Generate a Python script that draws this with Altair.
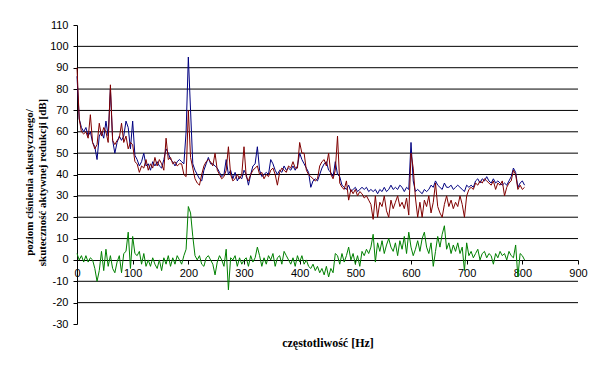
import altair as alt
import pandas as pd

# frequency bins [Hz]
freq = list(range(0, 805, 4))

blue = [
    86, 66, 62, 60, 62, 58, 60, 55, 53, 47,
    58, 60, 57, 65, 58, 80, 56, 50, 55, 58,
    56, 58, 65, 62, 52, 65, 49, 47, 44, 46,
    50, 44, 45, 42, 46, 44, 46, 44, 43, 47,
    52, 50, 47, 46, 44, 46, 47, 46, 45, 60,
    95, 70, 45, 42, 40, 38, 37, 42, 45, 48,
    45, 45, 44, 43, 41, 39, 40, 47, 40, 42,
    38, 41, 37, 39, 38, 42, 40, 35, 40, 44,
    45, 53, 42, 39, 40, 41, 40, 47, 45, 42,
    40, 42, 41, 44, 42, 43, 42, 44, 42, 44,
    50, 47, 45, 43, 41, 34, 37, 38, 37, 40,
    43, 45, 46, 42, 41, 39, 46, 40, 39, 35,
    34, 33, 35, 32, 33, 34, 32, 33, 34, 33,
    34, 32, 33, 32, 33, 31, 33, 32, 34, 32,
    33, 35, 33, 34, 33, 35, 34, 32, 34, 33,
    55, 37, 32, 33, 32, 31, 33, 32, 33, 35,
    34, 37, 35, 34, 33, 36, 34, 34, 35, 33,
    34, 35, 34, 33, 32, 35, 34, 35, 34, 37,
    38, 36, 38, 37, 39, 37, 36, 38, 36, 37,
    36, 35, 36, 35, 37, 39, 43, 41, 34, 36,
    37, 35,
]

red = [
    90, 66, 60, 59, 60, 57, 68, 55, 52, 54,
    64, 58, 62, 60, 55, 82, 56, 54, 56, 57,
    64, 55, 58, 52, 55, 54, 46, 45, 41, 44,
    43, 47, 42, 45, 43, 48, 44, 47, 45, 42,
    57, 47, 48, 45, 46, 44, 45, 45, 40, 39,
    70, 48, 43, 38, 36, 35, 40, 44, 46, 47,
    46, 44, 50, 42, 40, 38, 39, 42, 53, 40,
    37, 38, 40, 38, 40, 53, 39, 37, 40, 42,
    43, 44, 40, 41, 38, 40, 39, 42, 43, 40,
    35, 41, 43, 42, 41, 44, 43, 46, 43, 43,
    55, 50, 50, 42, 40, 39, 38, 37, 38, 44,
    46, 47, 44, 50, 40, 38, 42, 58, 36, 34,
    33, 37, 28, 33, 31, 33, 30, 32, 31, 29,
    30, 28, 26, 19, 30, 20, 27, 25, 30, 23,
    20, 28, 24, 27, 30, 25, 27, 24, 29, 21,
    50, 43, 29, 20, 27, 20, 28, 25, 30, 22,
    27, 36, 25, 22, 20, 26, 30, 25, 28, 24,
    27, 25, 30, 26, 20, 30, 33, 34, 33, 36,
    35, 37, 36, 38, 37, 36, 35, 37, 33, 36,
    35, 37, 30, 34, 36, 37, 42, 40, 33, 35,
    33, 34,
]

green = [
    3, 0, 2, -1, 2, -1, 1, 0, -4, -10,
    -5, 4, -5, 5, -3, 2, -4, -6, -1, 2,
    -6, 3, 4, 13, -4, 11, 3, 2, 4, -2,
    3, -3, 0, -3, 1, -2, -4, 0, -5, 1,
    -2, 2, -3, 1, -2, 2, 0, -2, 2, 5,
    25, 22, 11, 2, 0, 2, -2, -3, 1, 2,
    0, -2, -7, -1, 2, 0, -3, 5, -14, 1,
    0, 2, -3, 1, -2, 0, 1, -3, 2, -1,
    1, 6, 2, -3, 1, -2, 2, 0, 3, -3,
    1, 2, -2, 4, 2, 0, -2, 1, -3, 2,
    -1, 2, -2, 0, -3, -4, -2, -5, -3, -6,
    -4, -7, -3, -8, -4, -6, 3, 2, -2, 3,
    -1, 2, 6, 0, 3, -2, 2, -3, 4, 2,
    5, 3, 6, 12, -1, 8, 4, 9, 3, 7,
    10, 6, 4, 8, 2, 9, 5, 11, 3, 13,
    6, 2, 5, 9, 4, 10, 13, 6, 3, 8,
    -3, 4, 11, 6, 12, 16, 5, 8, 3, 7,
    4, 8, 3, 6, -5, 8, 2, 4, 1, 3,
    5, 0, 3, 4, 1, 3, 2, -2, 3, 1,
    4, 2, 3, 0, 4, 2, 1, 7, -8, 3,
    2, 0,
]

grid_levels = [-20, -10, 10, 20, 30, 40, 50, 60, 70, 80, 90, 100]
x_ticks = [0, 100, 200, 300, 400, 500, 600, 700, 800, 900]
y_ticks = [-30, -20, -10, 0, 10, 20, 30, 40, 50, 60, 70, 80, 90, 100, 110]

x_title = "częstotliwość [Hz]"
y_title = ["poziom ciśnienia akustycznego/", "skuteczność aktywnej redukcji [dB]"]

df = pd.DataFrame({"f": freq, "blue": blue, "red": red, "green": green})
grid_df = pd.DataFrame({"g": grid_levels, "f": [0] * len(grid_levels)})

xscale = alt.Scale(domain=[0, 900], nice=False, zero=False)
yscale = alt.Scale(domain=[-30, 110], nice=False, zero=False)

x_axis = alt.Axis(
    values=x_ticks, offset=-64, title=x_title, grid=False,
    domainColor="black", tickColor="black", tickSize=4, labelPadding=3,
    labelFont="Liberation Sans", labelFontSize=11, labelColor="black",
    titleFont="Liberation Serif", titleFontSize=12, titleFontWeight="bold",
    titleColor="black", titleY=77, labelFlush=False,
)
y_axis = alt.Axis(
    values=y_ticks, title=y_title, grid=False,
    domainColor="black", tickColor="black", tickSize=4, labelPadding=5,
    labelFont="Liberation Sans", labelFontSize=11, labelColor="black",
    labelExpr="'' + datum.value",
    titleFont="Liberation Serif", titleFontSize=11, titleFontWeight="bold",
    titleColor="black", titleLineHeight=13, titleX=-43, titleY=157,
)

grid = alt.Chart(grid_df).mark_rule(color="black", strokeWidth=1).encode(
    y=alt.Y("g:Q", scale=yscale, axis=y_axis)
)

base = alt.Chart(df)


def series_line(field, color):
    return base.mark_line(color=color, strokeWidth=1).encode(
        x=alt.X("f:Q", scale=xscale, axis=x_axis),
        y=alt.Y(f"{field}:Q", scale=yscale, axis=y_axis),
    )


chart = alt.layer(
    grid,
    series_line("blue", "#000080"),
    series_line("red", "#800000"),
    series_line("green", "#008000"),
).properties(
    width=501, height=299,
    autosize=alt.AutoSizeParams(type="none"),
    padding={"left": 69, "top": 17, "right": 18, "bottom": 36},
    background="white",
).configure_view(stroke=None)

chart.save("out.html", embed_options={"renderer": "svg", "actions": False})
